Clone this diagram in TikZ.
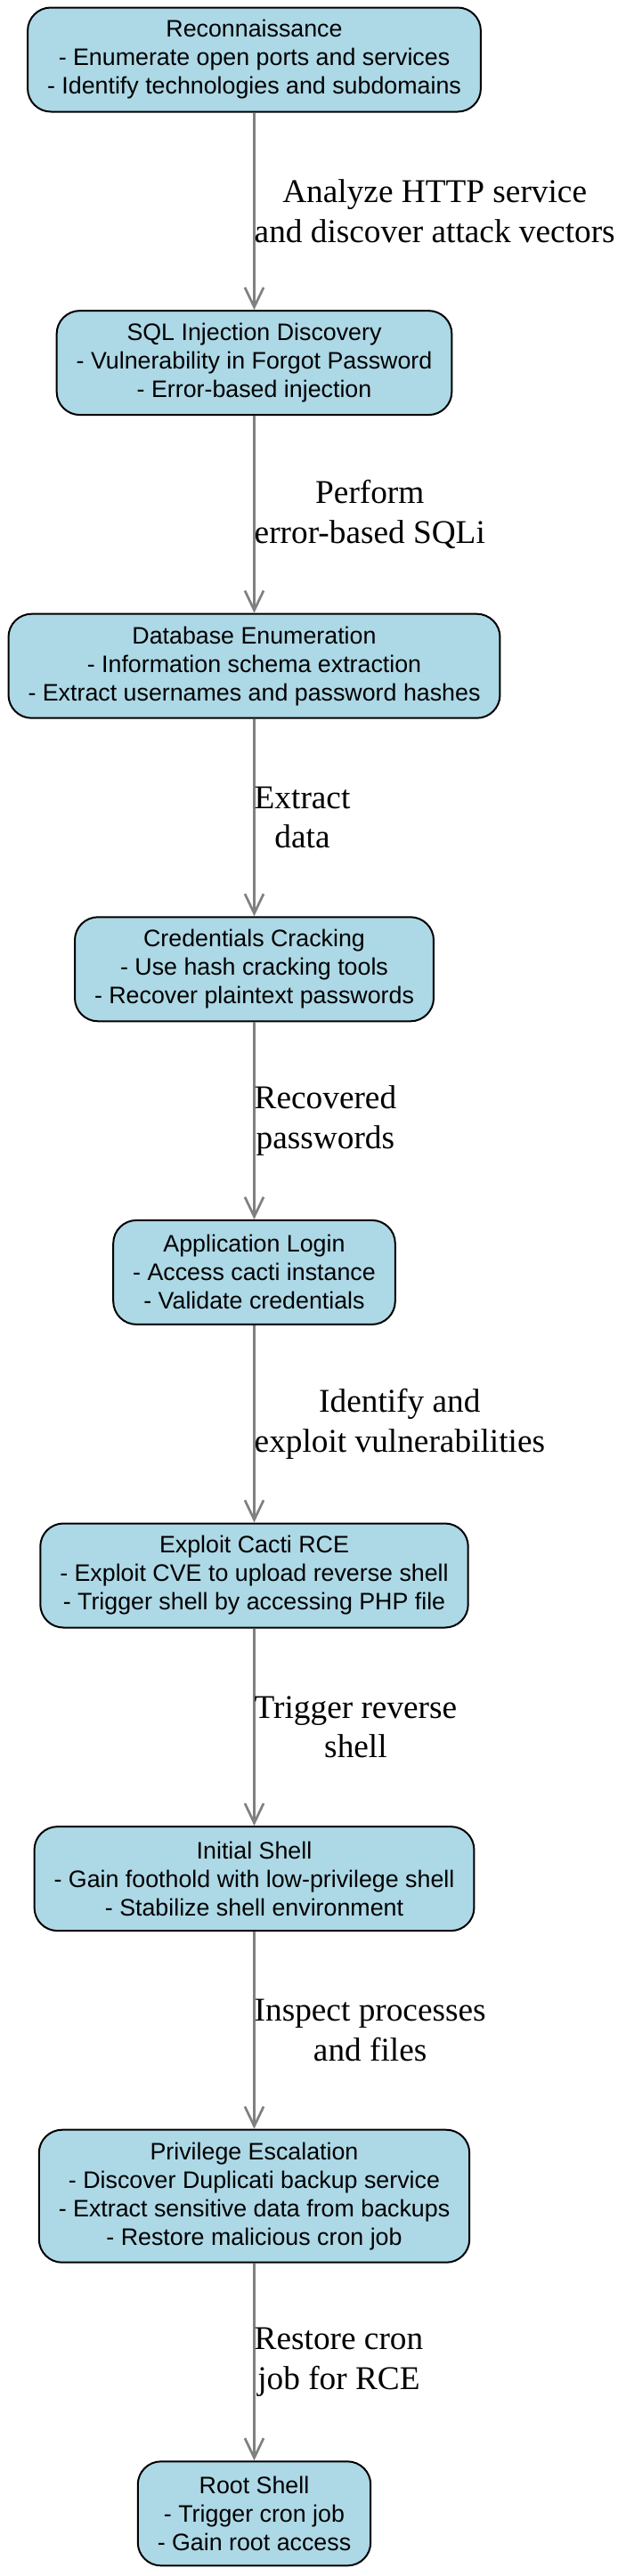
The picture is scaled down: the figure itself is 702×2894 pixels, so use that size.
\documentclass[tikz,border=0pt]{standalone}
\usepackage{fontspec}
\setmainfont{Liberation Serif}
\setsansfont{Liberation Sans}
\usetikzlibrary{arrows.meta}
\definecolor{boxblue}{HTML}{ADD8E6}
\definecolor{edgegray}{HTML}{808080}
\begin{document}
\begin{tikzpicture}[x=1pt,y=-1pt,
  stepbox/.style={draw=black, line width=2pt, fill=boxblue, rounded corners=26pt,
    align=center, inner xsep=22pt, inner ysep=0pt, minimum height=117pt,
    font=\sffamily\fontsize{26.8}{32}\selectfont},
  flow/.style={draw=edgegray, line width=2.7pt,
    -{Straight Barb[length=22pt,width=21pt]}},
  elabel/.style={anchor=west, inner sep=0pt, align=center,
    font=\rmfamily\fontsize{37.3}{44.8}\selectfont}]
\useasboundingbox (0,0) rectangle (702,2894);
\node[stepbox] (n1) at (285.5,67) {Reconnaissance\\- Enumerate open ports and services\\- Identify technologies and subdomains};
\node[stepbox] (n2) at (285.5,407.6) {SQL Injection Discovery\\- Vulnerability in Forgot Password\\- Error-based injection};
\node[stepbox] (n3) at (285.5,748.2) {Database Enumeration\\- Information schema extraction\\- Extract usernames and password hashes};
\node[stepbox] (n4) at (285.5,1088.8) {Credentials Cracking\\- Use hash cracking tools\\- Recover plaintext passwords};
\node[stepbox] (n5) at (285.5,1429.4) {Application Login\\- Access cacti instance\\- Validate credentials};
\node[stepbox] (n6) at (285.5,1770) {Exploit Cacti RCE\\- Exploit CVE to upload reverse shell\\- Trigger shell by accessing PHP file};
\node[stepbox] (n7) at (285.5,2110.6) {Initial Shell\\- Gain foothold with low-privilege shell\\- Stabilize shell environment};
\node[stepbox, minimum height=149pt] (n8) at (285.5,2467.2) {Privilege Escalation\\- Discover Duplicati backup service\\- Extract sensitive data from backups\\- Restore malicious cron job};
\node[stepbox] (n9) at (285.5,2823.8) {Root Shell\\- Trigger cron job\\- Gain root access};
\draw[flow] (n1.south) -- (n2.north) coordinate[pos=0.5] (m1);
\draw[flow] (n2.south) -- (n3.north) coordinate[pos=0.5] (m2);
\draw[flow] (n3.south) -- (n4.north) coordinate[pos=0.5] (m3);
\draw[flow] (n4.south) -- (n5.north) coordinate[pos=0.5] (m4);
\draw[flow] (n5.south) -- (n6.north) coordinate[pos=0.5] (m5);
\draw[flow] (n6.south) -- (n7.north) coordinate[pos=0.5] (m6);
\draw[flow] (n7.south) -- (n8.north) coordinate[pos=0.5] (m7);
\draw[flow] (n8.south) -- (n9.north) coordinate[pos=0.5] (m8);
\node[elabel] (l1) at (m1) {Analyze HTTP service\\and discover attack vectors};
\node[elabel] (l2) at (m2) {Perform\\error-based SQLi};
\node[elabel] (l3) at (m3) {Extract\\data};
\node[elabel] (l4) at (m4) {Recovered\\passwords};
\node[elabel] (l5) at (m5) {Identify and\\exploit vulnerabilities};
\node[elabel] (l6) at (m6) {Trigger reverse\\shell};
\node[elabel] (l7) at (m7) {Inspect processes\\and files};
\node[elabel] (l8) at (m8) {Restore cron\\job for RCE};
\end{tikzpicture}
\end{document}
